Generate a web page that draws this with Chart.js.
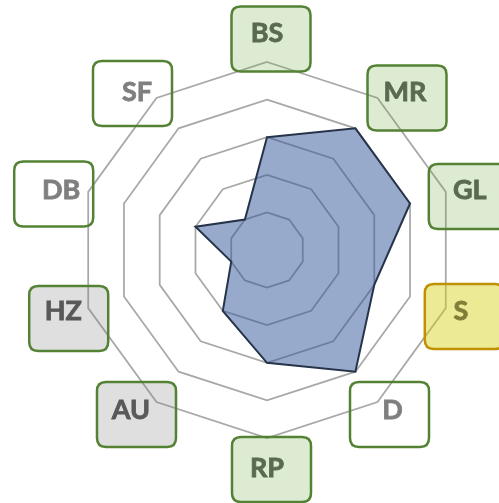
<!DOCTYPE html>
<html>
<head>
<meta charset="utf-8">
<script src="https://cdn.jsdelivr.net/npm/chart.js@4"></script>
<style>
  html, body { margin: 0; padding: 0; background: #fff; }
  canvas { display: block; }
</style>
</head>
<body>
<canvas id="myChart" width="499" height="503"></canvas>
<script>
// categories, clockwise from the top
var categorias = ['BS', 'MR', 'GL', 'S', 'D', 'RP', 'AU', 'HZ', 'DB', 'SF'];
var puntajes = [3, 4, 4, 3, 4, 3, 2, 1, 2, 1];
var grupos = ['ok', 'ok', 'ok', 'warn', 'none', 'ok', 'off', 'off', 'none', 'none'];
var escalaMin = 0;
var escalaMax = 5;

// label text and box offsets from each outer grid vertex
var textoOffset = [[0, -30], [27.5, -6.5], [24, -2.5], [15, 2], [15, 7.5], [0, 29.5], [-25.5, 7.5], [-25, 2], [-27, -3], [-19.5, -7]];
var cajaOffset = [[4, -23], [29.5, 0], [22.5, 4.5], [18.5, 8.5], [12, 12.5], [4.5, 31.5], [-20, 12.5], [-19.5, 10.5], [-34.5, 2], [-24, -4.5]];

// box look per group
var estilos = {
    ok:   { fill: 'rgba(112,173,71,0.24)', border: '#548235', text: '#5a6a4f' },
    warn: { fill: 'rgba(214,208,20,0.45)', border: '#bf9000', text: '#7f7f3a' },
    none: { fill: null,                    border: '#548235', text: '#7f7f7f' },
    off:  { fill: 'rgba(128,128,128,0.25)', border: '#548235', text: '#595959' }
};

function roundRect(ctx, x, y, w, h, r) {
    ctx.beginPath();
    ctx.moveTo(x + r, y);
    ctx.lineTo(x + w - r, y);
    ctx.quadraticCurveTo(x + w, y, x + w, y + r);
    ctx.lineTo(x + w, y + h - r);
    ctx.quadraticCurveTo(x + w, y + h, x + w - r, y + h);
    ctx.lineTo(x + r, y + h);
    ctx.quadraticCurveTo(x, y + h, x, y + h - r);
    ctx.lineTo(x, y + r);
    ctx.quadraticCurveTo(x, y, x + r, y);
    ctx.closePath();
}

// category labels inside rounded boxes
var etiquetas = {
    id: 'etiquetas',
    afterDraw: function(chart) {
        var ctx = chart.ctx;
        var r = chart.scales.r;
        ctx.save();
        for (var i = 0; i < categorias.length; i++) {
            var p = r.getPointPosition(i, r.drawingArea);
            var st = estilos[grupos[i]];
            var bw = 79, bh = 65;
            var bx = p.x + cajaOffset[i][0] - bw / 2;
            var by = p.y + cajaOffset[i][1] - bh / 2;
            roundRect(ctx, bx, by, bw, bh, 9);
            if (st.fill) {
                ctx.fillStyle = st.fill;
                ctx.fill();
            }
            ctx.lineWidth = 2.5;
            ctx.strokeStyle = st.border;
            ctx.stroke();

            // a thin stroke makes the bold text a bit heavier
            var tx = p.x + textoOffset[i][0];
            var ty = p.y + textoOffset[i][1] + 9.8;
            ctx.font = 'bold 27px Lato';
            ctx.textAlign = 'center';
            ctx.textBaseline = 'alphabetic';
            ctx.fillStyle = st.text;
            ctx.strokeStyle = st.text;
            ctx.lineWidth = 0.8;
            ctx.fillText(categorias[i], tx, ty);
            ctx.strokeText(categorias[i], tx, ty);
        }
        ctx.restore();
    }
};

var ctx = document.getElementById('myChart').getContext('2d');
var myChart = new Chart(ctx, {
    type: 'radar',
    data: {
        labels: categorias,
        datasets: [{
            data: puntajes,
            fill: true,
            backgroundColor: 'rgba(47,85,151,0.5)',
            borderColor: '#26344a',
            borderWidth: 2,
            pointRadius: 0,
            pointHoverRadius: 0
        }]
    },
    options: {
        responsive: false,
        animation: false,
        layout: {
            padding: { left: 79, right: 44, top: 62, bottom: 65 }
        },
        plugins: {
            legend: { display: false },
            tooltip: { enabled: false }
        },
        scales: {
            r: {
                min: escalaMin,
                max: escalaMax,
                ticks: { display: false, stepSize: 1 },
                grid: { color: '#a8a8a8', lineWidth: 1.75 },
                angleLines: { display: false },
                pointLabels: { display: false }
            }
        }
    },
    plugins: [etiquetas]
});
</script>
</body>
</html>
